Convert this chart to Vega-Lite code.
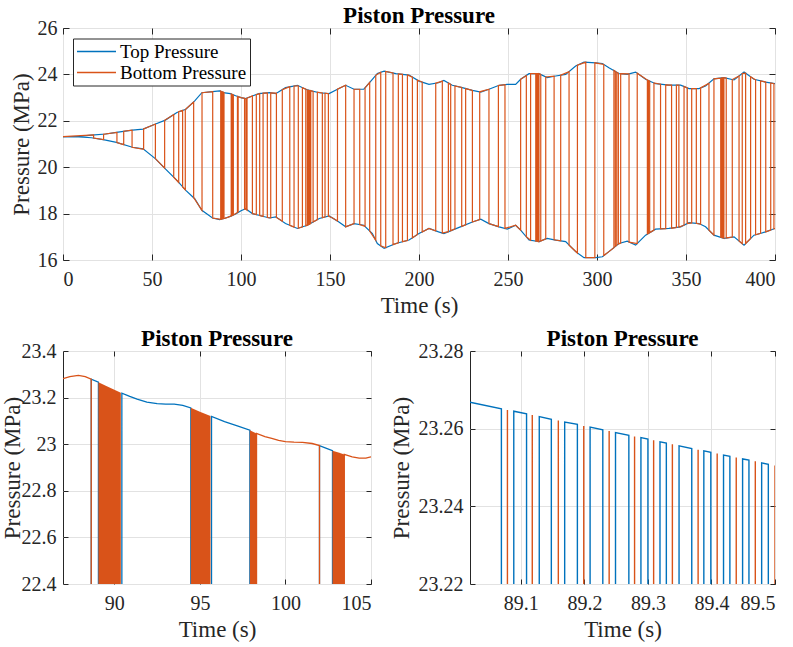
{
"$schema": "https://vega.github.io/schema/vega-lite/v6.json",
"padding": {"left": 0, "top": 4, "right": 2, "bottom": 2},
"background": "white",
"config": {
  "font": "Liberation Serif",
  "style": {"guide-label": {"font": "Liberation Serif"}, "guide-title": {"font": "Liberation Serif"}},
  "view": {"stroke": "#262626", "strokeWidth": 1},
  "axis": {"labelFont": "Liberation Serif", "titleFont": "Liberation Serif", "labelFontSize": 20, "titleFontSize": 23, "labelColor": "#262626", "titleColor": "#262626", "titleFontWeight": "normal", "tickColor": "#262626", "tickWidth": 1, "domain": false, "gridColor": "#e2e2e2", "gridWidth": 1},
  "title": {"font": "Liberation Serif", "fontSize": 23, "fontWeight": "bold", "color": "#000000", "offset": -10}
},
"datasets": {
"topBlue": [
{"e":"u","t":0,"p":21.32},{"e":"u","t":9,"p":21.33},{"e":"u","t":16,"p":21.38},{"e":"u","t":24,"p":21.43},{"e":"u","t":30,"p":21.5},{"e":"u","t":39,"p":21.6},{"e":"u","t":45,"p":21.64},{"e":"u","t":52,"p":21.86},{"e":"u","t":57.5,"p":22.03},{"e":"u","t":64,"p":22.36},{"e":"u","t":69,"p":22.5},{"e":"u","t":74,"p":22.86},{"e":"u","t":78,"p":23.21},{"e":"u","t":84,"p":23.26},{"e":"u","t":88,"p":23.29},{"e":"u","t":91,"p":23.2},{"e":"u","t":94,"p":23.17},{"e":"u","t":97,"p":23.08},{"e":"u","t":100,"p":23.0},{"e":"u","t":102.6,"p":22.96},{"e":"u","t":106.4,"p":23.07},{"e":"u","t":110,"p":23.17},{"e":"u","t":116,"p":23.21},{"e":"u","t":119.5,"p":23.17},{"e":"u","t":125,"p":23.43},{"e":"u","t":131.7,"p":23.53},{"e":"u","t":137.3,"p":23.33},{"e":"u","t":144,"p":23.21},{"e":"u","t":149.5,"p":23.17},{"e":"u","t":155,"p":23.39},{"e":"u","t":158.8,"p":23.53},{"e":"u","t":163.5,"p":23.36},{"e":"u","t":169,"p":23.36},{"e":"u","t":173.8,"p":23.79},{"e":"u","t":176.6,"p":24.04},{"e":"u","t":180.4,"p":24.14},{"e":"u","t":187,"p":24.03},{"e":"u","t":194.4,"p":23.97},{"e":"u","t":200,"p":23.71},{"e":"u","t":205.6,"p":23.57},{"e":"u","t":211,"p":23.64},{"e":"u","t":214,"p":23.74},{"e":"u","t":218.7,"p":23.53},{"e":"u","t":224.3,"p":23.43},{"e":"u","t":230,"p":23.31},{"e":"u","t":234.7,"p":23.24},{"e":"u","t":239.3,"p":23.36},{"e":"u","t":245,"p":23.53},{"e":"u","t":249.6,"p":23.57},{"e":"u","t":254.3,"p":23.57},{"e":"u","t":257.1,"p":23.79},{"e":"u","t":261.8,"p":24.03},{"e":"u","t":267.4,"p":24.03},{"e":"u","t":272,"p":23.86},{"e":"u","t":276.8,"p":23.93},{"e":"u","t":282.4,"p":24.0},{"e":"u","t":288,"p":24.36},{"e":"u","t":292.7,"p":24.53},{"e":"u","t":299.3,"p":24.5},{"e":"u","t":303,"p":24.47},{"e":"u","t":306.7,"p":24.29},{"e":"u","t":312.3,"p":24.04},{"e":"u","t":317,"p":24.0},{"e":"u","t":321.7,"p":24.1},{"e":"u","t":327.3,"p":23.79},{"e":"u","t":332.9,"p":23.6},{"e":"u","t":340.4,"p":23.54},{"e":"u","t":347,"p":23.54},{"e":"u","t":351.7,"p":23.39},{"e":"u","t":357.3,"p":23.39},{"e":"u","t":361,"p":23.5},{"e":"u","t":365.7,"p":23.81},{"e":"u","t":371.3,"p":23.86},{"e":"u","t":377,"p":23.76},{"e":"u","t":382.6,"p":24.1},{"e":"u","t":388.2,"p":23.79},{"e":"u","t":394.7,"p":23.67},{"e":"u","t":400,"p":23.6},
{"e":"l","t":0,"p":21.32},{"e":"l","t":9,"p":21.31},{"e":"l","t":16,"p":21.27},{"e":"l","t":24,"p":21.17},{"e":"l","t":30,"p":21.07},{"e":"l","t":39,"p":20.86},{"e":"l","t":45,"p":20.79},{"e":"l","t":52,"p":20.36},{"e":"l","t":57.5,"p":19.93},{"e":"l","t":64,"p":19.43},{"e":"l","t":69,"p":19.0},{"e":"l","t":74,"p":18.64},{"e":"l","t":78,"p":18.14},{"e":"l","t":84,"p":17.81},{"e":"l","t":88,"p":17.74},{"e":"l","t":91,"p":17.8},{"e":"l","t":94,"p":17.88},{"e":"l","t":97,"p":17.98},{"e":"l","t":100,"p":18.12},{"e":"l","t":102.6,"p":18.21},{"e":"l","t":106.4,"p":18.0},{"e":"l","t":110,"p":17.93},{"e":"l","t":116,"p":17.81},{"e":"l","t":119.5,"p":17.86},{"e":"l","t":125,"p":17.57},{"e":"l","t":131.7,"p":17.36},{"e":"l","t":137.3,"p":17.5},{"e":"l","t":144,"p":17.79},{"e":"l","t":149.5,"p":17.9},{"e":"l","t":155,"p":17.64},{"e":"l","t":158.8,"p":17.43},{"e":"l","t":163.5,"p":17.57},{"e":"l","t":169,"p":17.5},{"e":"l","t":173.8,"p":17.14},{"e":"l","t":176.6,"p":16.71},{"e":"l","t":180.4,"p":16.5},{"e":"l","t":187,"p":16.71},{"e":"l","t":194.4,"p":16.86},{"e":"l","t":200,"p":17.14},{"e":"l","t":205.6,"p":17.36},{"e":"l","t":211,"p":17.21},{"e":"l","t":214,"p":17.14},{"e":"l","t":218.7,"p":17.29},{"e":"l","t":224.3,"p":17.46},{"e":"l","t":230,"p":17.64},{"e":"l","t":234.7,"p":17.76},{"e":"l","t":239.3,"p":17.57},{"e":"l","t":245,"p":17.43},{"e":"l","t":249.6,"p":17.33},{"e":"l","t":254.3,"p":17.5},{"e":"l","t":257.1,"p":17.29},{"e":"l","t":261.8,"p":16.86},{"e":"l","t":267.4,"p":16.79},{"e":"l","t":272,"p":16.93},{"e":"l","t":276.8,"p":16.86},{"e":"l","t":282.4,"p":16.79},{"e":"l","t":288,"p":16.36},{"e":"l","t":292.7,"p":16.1},{"e":"l","t":299.3,"p":16.1},{"e":"l","t":303,"p":16.14},{"e":"l","t":306.7,"p":16.36},{"e":"l","t":312.3,"p":16.71},{"e":"l","t":317,"p":16.81},{"e":"l","t":321.7,"p":16.64},{"e":"l","t":327.3,"p":17.07},{"e":"l","t":332.9,"p":17.33},{"e":"l","t":340.4,"p":17.36},{"e":"l","t":347,"p":17.43},{"e":"l","t":351.7,"p":17.61},{"e":"l","t":357.3,"p":17.57},{"e":"l","t":361,"p":17.43},{"e":"l","t":365.7,"p":17.07},{"e":"l","t":371.3,"p":16.93},{"e":"l","t":377,"p":17.0},{"e":"l","t":382.6,"p":16.64},{"e":"l","t":388.2,"p":17.07},{"e":"l","t":394.7,"p":17.21},{"e":"l","t":400,"p":17.36}
],
"topOrange": [
{"t":0,"p":21.32},{"t":17.2,"p":21.39},{"t":17.2,"p":21.26},{"t":22.8,"p":21.19},{"t":22.8,"p":21.42},{"t":30.3,"p":21.5},{"t":30.3,"p":21.06},{"t":34.1,"p":20.97},{"t":34.1,"p":21.55},{"t":38.8,"p":21.6},{"t":38.8,"p":20.86},{"t":45.3,"p":20.77},{"t":45.3,"p":21.65},{"t":51.9,"p":21.86},{"t":51.9,"p":20.37},{"t":57.1,"p":19.96},{"t":57.1,"p":22.02},{"t":62.2,"p":22.27},{"t":62.2,"p":19.57},{"t":65,"p":19.34},{"t":65,"p":22.39},{"t":67.2,"p":22.45},{"t":67.2,"p":19.15},{"t":68.7,"p":19.03},{"t":68.7,"p":22.49},{"t":73.4,"p":22.81},{"t":73.4,"p":18.69},{"t":78.1,"p":18.13},{"t":78.1,"p":23.21},{"t":84.1,"p":23.26},{"t":84.1,"p":17.81},{"t":88.6,"p":17.75},{"t":88.6,"p":23.28},{"t":89,"p":23.26},{"t":89,"p":17.76},{"t":89.4,"p":17.77},{"t":89.4,"p":23.25},{"t":89.8,"p":23.24},{"t":89.8,"p":17.78},{"t":90.2,"p":17.79},{"t":90.2,"p":23.23},{"t":90.45,"p":23.22},{"t":90.45,"p":17.79},{"t":92.5,"p":17.84},{"t":94.5,"p":17.9},{"t":94.5,"p":23.16},{"t":94.9,"p":23.14},{"t":94.9,"p":17.91},{"t":95.3,"p":17.93},{"t":95.3,"p":23.12},{"t":95.7,"p":23.11},{"t":95.7,"p":17.94},{"t":98,"p":18.05},{"t":98,"p":23.05},{"t":98.2,"p":23.05},{"t":98.2,"p":18.06},{"t":98.4,"p":18.07},{"t":98.4,"p":23.04},{"t":100,"p":23.0},{"t":102,"p":22.97},{"t":102,"p":18.19},{"t":102.8,"p":18.2},{"t":102.8,"p":22.96},{"t":103.1,"p":22.97},{"t":103.1,"p":18.17},{"t":103.4,"p":18.15},{"t":103.4,"p":22.98},{"t":106.4,"p":23.07},{"t":106.4,"p":18.0},{"t":108.6,"p":17.96},{"t":108.6,"p":23.13},{"t":110.5,"p":23.17},{"t":110.5,"p":17.92},{"t":112.4,"p":17.88},{"t":112.4,"p":23.19},{"t":114.8,"p":23.2},{"t":114.8,"p":17.83},{"t":116.7,"p":17.82},{"t":116.7,"p":23.2},{"t":119.9,"p":23.19},{"t":119.9,"p":17.83},{"t":123.2,"p":17.67},{"t":123.2,"p":23.34},{"t":127.4,"p":23.47},{"t":127.4,"p":17.49},{"t":129.8,"p":17.42},{"t":129.8,"p":23.5},{"t":132.2,"p":23.51},{"t":132.2,"p":17.37},{"t":134.5,"p":17.43},{"t":134.5,"p":23.43},{"t":136.4,"p":23.36},{"t":136.4,"p":17.48},{"t":137.3,"p":17.5},{"t":137.3,"p":23.33},{"t":137.8,"p":23.32},{"t":137.8,"p":17.52},{"t":138.3,"p":17.54},{"t":138.3,"p":23.31},{"t":138.8,"p":23.3},{"t":138.8,"p":17.56},{"t":139.2,"p":17.58},{"t":139.2,"p":23.3},{"t":140.5,"p":23.27},{"t":140.5,"p":17.64},{"t":142.9,"p":17.74},{"t":142.9,"p":23.23},{"t":145.7,"p":23.2},{"t":145.7,"p":17.82},{"t":147.2,"p":17.86},{"t":147.2,"p":23.19},{"t":149.1,"p":23.17},{"t":149.1,"p":17.89},{"t":151.5,"p":17.81},{"t":154.2,"p":17.68},{"t":154.2,"p":23.36},{"t":158.8,"p":23.53},{"t":158.8,"p":17.43},{"t":163.5,"p":17.57},{"t":163.5,"p":23.36},{"t":166.7,"p":23.36},{"t":166.7,"p":17.53},{"t":169.7,"p":17.45},{"t":169.7,"p":23.42},{"t":172.3,"p":23.66},{"t":172.3,"p":17.25},{"t":175.7,"p":16.85},{"t":175.7,"p":23.96},{"t":178.5,"p":24.09},{"t":178.5,"p":16.61},{"t":181.3,"p":16.53},{"t":181.3,"p":24.13},{"t":185.4,"p":24.06},{"t":185.4,"p":16.66},{"t":188.4,"p":16.74},{"t":188.4,"p":24.02},{"t":190.7,"p":24.0},{"t":190.7,"p":16.79},{"t":193.5,"p":16.84},{"t":193.5,"p":23.98},{"t":196.3,"p":23.88},{"t":196.3,"p":16.95},{"t":199.1,"p":17.1},{"t":199.1,"p":23.75},{"t":201.8,"p":23.67},{"t":201.8,"p":17.21},{"t":205.6,"p":17.36},{"t":209.4,"p":17.25},{"t":209.4,"p":23.62},{"t":213.1,"p":23.71},{"t":213.1,"p":17.16},{"t":216.5,"p":17.22},{"t":216.5,"p":23.63},{"t":217.8,"p":23.57},{"t":217.8,"p":17.26},{"t":220.2,"p":17.34},{"t":220.2,"p":23.5},{"t":224,"p":23.44},{"t":224,"p":17.45},{"t":226.2,"p":17.52},{"t":226.2,"p":23.39},{"t":230,"p":23.31},{"t":230,"p":17.64},{"t":234.1,"p":17.74},{"t":234.1,"p":23.25},{"t":239.3,"p":23.36},{"t":239.3,"p":17.57},{"t":244.6,"p":17.44},{"t":244.6,"p":23.52},{"t":248.3,"p":23.56},{"t":248.3,"p":17.36},{"t":254.3,"p":17.5},{"t":257.1,"p":17.29},{"t":257.1,"p":23.79},{"t":260.3,"p":23.95},{"t":260.3,"p":17.0},{"t":262.7,"p":16.85},{"t":262.7,"p":24.03},{"t":265.6,"p":24.03},{"t":265.6,"p":16.81},{"t":266.2,"p":16.81},{"t":266.2,"p":24.03},{"t":266.8,"p":24.03},{"t":266.8,"p":16.8},{"t":267.4,"p":16.79},{"t":267.4,"p":24.03},{"t":268.4,"p":24.0},{"t":268.4,"p":16.82},{"t":271.2,"p":16.91},{"t":271.2,"p":23.89},{"t":275.9,"p":23.92},{"t":275.9,"p":16.87},{"t":279.6,"p":16.83},{"t":279.6,"p":23.97},{"t":284.3,"p":24.12},{"t":284.3,"p":16.64},{"t":289,"p":16.3},{"t":289,"p":24.4},{"t":293.7,"p":24.53},{"t":293.7,"p":16.1},{"t":298.8,"p":16.1},{"t":298.8,"p":24.5},{"t":303.8,"p":24.43},{"t":303.8,"p":16.19},{"t":306.7,"p":16.36},{"t":309.5,"p":16.53},{"t":309.5,"p":24.17},{"t":310.3,"p":24.13},{"t":310.3,"p":16.59},{"t":311.1,"p":16.64},{"t":311.1,"p":24.09},{"t":312,"p":24.05},{"t":312,"p":16.69},{"t":313.3,"p":16.73},{"t":313.3,"p":24.03},{"t":318,"p":24.02},{"t":318,"p":16.77},{"t":322.6,"p":16.71},{"t":322.6,"p":24.05},{"t":328.3,"p":23.76},{"t":328.3,"p":17.12},{"t":328.9,"p":17.15},{"t":328.9,"p":23.74},{"t":329.6,"p":23.71},{"t":329.6,"p":17.18},{"t":332,"p":17.29},{"t":332,"p":23.63},{"t":335.7,"p":23.58},{"t":335.7,"p":17.34},{"t":338.6,"p":17.35},{"t":338.6,"p":23.55},{"t":341.9,"p":23.54},{"t":341.9,"p":17.37},{"t":344.6,"p":17.4},{"t":344.6,"p":23.54},{"t":346,"p":23.54},{"t":346,"p":17.42},{"t":348.9,"p":17.5},{"t":348.9,"p":23.48},{"t":350.7,"p":23.42},{"t":350.7,"p":17.57},{"t":353.2,"p":17.6},{"t":353.2,"p":23.39},{"t":355.8,"p":23.39},{"t":355.8,"p":17.58},{"t":358.2,"p":17.54},{"t":358.2,"p":23.42},{"t":362.9,"p":23.62},{"t":362.9,"p":17.28},{"t":365.7,"p":17.07},{"t":365.7,"p":23.81},{"t":369.5,"p":23.84},{"t":369.5,"p":16.98},{"t":370.1,"p":16.97},{"t":370.1,"p":23.85},{"t":370.7,"p":23.85},{"t":370.7,"p":16.95},{"t":371.3,"p":16.93},{"t":371.3,"p":23.86},{"t":372.6,"p":23.84},{"t":372.6,"p":16.95},{"t":376,"p":16.99},{"t":376,"p":23.78},{"t":379.8,"p":23.93},{"t":379.8,"p":16.82},{"t":381.6,"p":16.7},{"t":381.6,"p":24.04},{"t":383.5,"p":24.05},{"t":383.5,"p":16.71},{"t":386.3,"p":16.93},{"t":386.3,"p":23.9},{"t":389.1,"p":23.77},{"t":389.1,"p":17.09},{"t":391.9,"p":17.15},{"t":391.9,"p":23.72},{"t":394.8,"p":23.67},{"t":394.8,"p":17.21},{"t":397.6,"p":17.29},{"t":397.6,"p":23.63},{"t":399.4,"p":23.6},{"t":399.4,"p":17.34},{"t":400,"p":17.36}
],
"blBlue": [
{"t":87,"p":17.8},{"t":88.65,"p":17.8},{"t":88.65,"p":23.279},{"t":89.07,"p":23.266},{"t":89.07,"p":17.8},{"t":90.44,"p":17.8},{"t":90.44,"p":23.219},{"t":90.9,"p":23.205},{"t":91.33,"p":23.193},{"t":91.9,"p":23.181},{"t":92.5,"p":23.174},{"t":93,"p":23.172},{"t":93.5,"p":23.172},{"t":94,"p":23.167},{"t":94.47,"p":23.156},{"t":94.47,"p":17.8},{"t":95.68,"p":17.8},{"t":95.68,"p":23.119},{"t":96.44,"p":23.097},{"t":97.23,"p":23.078},{"t":97.92,"p":23.06},{"t":97.92,"p":17.8},{"t":101.99,"p":17.8},{"t":101.99,"p":22.994},{"t":102.4,"p":22.982},{"t":102.75,"p":22.972},{"t":102.75,"p":17.8},{"t":105,"p":17.8}
],
"blOrange": [
{"t":87,"p":23.281},{"t":87.4,"p":23.29},{"t":87.9,"p":23.295},{"t":88.3,"p":23.29},{"t":88.65,"p":23.279},{"t":88.65,"p":17.8},{"t":98.31,"p":17.8},{"t":98.31,"p":23.046},{"t":98.8,"p":23.033},{"t":99.2,"p":23.025},{"t":99.6,"p":23.016},{"t":100,"p":23.011},{"t":100.5,"p":23.009},{"t":101,"p":23.008},{"t":101.56,"p":23.003},{"t":101.99,"p":22.994},{"t":101.99,"p":17.8},{"t":103.44,"p":17.8},{"t":103.44,"p":22.956},{"t":103.9,"p":22.946},{"t":104.31,"p":22.94},{"t":104.7,"p":22.94},{"t":105,"p":22.946}
],
"blBand": [
{"b":1,"t":89.07,"p":23.266},{"b":1,"t":89.5,"p":23.251},{"b":1,"t":90,"p":23.234},{"b":1,"t":90.38,"p":23.221},
{"b":2,"t":94.47,"p":23.156},{"b":2,"t":95,"p":23.139},{"b":2,"t":95.62,"p":23.121},
{"b":3,"t":97.92,"p":23.06},{"b":3,"t":98.31,"p":23.046},
{"b":4,"t":102.75,"p":22.972},{"b":4,"t":103.1,"p":22.964},{"b":4,"t":103.44,"p":22.956}
],
"brBlue": [
{"t":89.02,"p":23.2668},{"t":89.0694,"p":23.2651},{"t":89.0694,"p":17.8},{"t":89.0889,"p":17.8},{"t":89.0889,"p":23.2645},{"t":89.109,"p":23.2638},{"t":89.109,"p":17.8},{"t":89.129,"p":17.8},{"t":89.129,"p":23.2631},{"t":89.148,"p":23.2624},{"t":89.148,"p":17.8},{"t":89.169,"p":17.8},{"t":89.169,"p":23.2617},{"t":89.189,"p":23.2611},{"t":89.189,"p":17.8},{"t":89.209,"p":17.8},{"t":89.209,"p":23.2604},{"t":89.229,"p":23.2597},{"t":89.229,"p":17.8},{"t":89.249,"p":17.8},{"t":89.249,"p":23.259},{"t":89.27,"p":23.2583},{"t":89.27,"p":17.8},{"t":89.289,"p":17.8},{"t":89.289,"p":23.2577},{"t":89.3,"p":23.2573},{"t":89.3,"p":17.8},{"t":89.319,"p":17.8},{"t":89.319,"p":23.2566},{"t":89.329,"p":23.2563},{"t":89.329,"p":17.8},{"t":89.349,"p":17.8},{"t":89.349,"p":23.2556},{"t":89.369,"p":23.2549},{"t":89.369,"p":17.8},{"t":89.388,"p":17.8},{"t":89.388,"p":23.2543},{"t":89.399,"p":23.2539},{"t":89.399,"p":17.8},{"t":89.419,"p":17.8},{"t":89.419,"p":23.2532},{"t":89.429,"p":23.2529},{"t":89.429,"p":17.8},{"t":89.449,"p":17.8},{"t":89.449,"p":23.2522},{"t":89.459,"p":23.2519},{"t":89.459,"p":17.8},{"t":89.479,"p":17.8},{"t":89.479,"p":23.2512},{"t":89.4895,"p":23.2508},{"t":89.4895,"p":17.8},{"t":89.5,"p":17.8}
],
"brOrange": [
{"t":89.02,"p":17.8},{"t":89.0789,"p":17.8},{"t":89.0789,"p":23.2648},{"t":89.0789,"p":17.8},{"t":89.118,"p":17.8},{"t":89.118,"p":23.2635},{"t":89.118,"p":17.8},{"t":89.159,"p":17.8},{"t":89.159,"p":23.2621},{"t":89.159,"p":17.8},{"t":89.199,"p":17.8},{"t":89.199,"p":23.2607},{"t":89.199,"p":17.8},{"t":89.239,"p":17.8},{"t":89.239,"p":23.2594},{"t":89.239,"p":17.8},{"t":89.279,"p":17.8},{"t":89.279,"p":23.258},{"t":89.279,"p":17.8},{"t":89.309,"p":17.8},{"t":89.309,"p":23.257},{"t":89.309,"p":17.8},{"t":89.3385,"p":17.8},{"t":89.3385,"p":23.256},{"t":89.3385,"p":17.8},{"t":89.379,"p":17.8},{"t":89.379,"p":23.2546},{"t":89.379,"p":17.8},{"t":89.409,"p":17.8},{"t":89.409,"p":23.2536},{"t":89.409,"p":17.8},{"t":89.439,"p":17.8},{"t":89.439,"p":23.2526},{"t":89.439,"p":17.8},{"t":89.469,"p":17.8},{"t":89.469,"p":23.2516},{"t":89.469,"p":17.8},{"t":89.5,"p":17.8},{"t":89.5,"p":23.2505}
]
},
"bounds": "flush",
"spacing": 91,
"vconcat": [
{
  "width": 712, "height": 232,
  "title": {"text": "Piston Pressure"},
  "layer": [
    {
      "data": {"name": "topBlue"},
      "mark": {"type": "line", "strokeWidth": 1.2, "clip": true},
      "encoding": {
        "x": {"field": "t", "type": "quantitative", "scale": {"domain": [0, 400], "nice": false, "zero": false},
              "axis": {"values": [0,50,100,150,200,250,300,350,400], "labelFont": "Liberation Serif", "title": "Time (s)", "grid": true, "tickSize": -6, "labelPadding": 15, "titlePadding": 5}},
        "y": {"field": "p", "type": "quantitative", "scale": {"domain": [16, 26], "nice": false, "zero": false},
              "axis": {"values": [16,18,20,22,24,26], "labelFont": "Liberation Serif", "title": "Pressure (MPa)", "grid": true, "tickSize": -6, "labelPadding": 12, "titleX": -35, "titleBaseline": "alphabetic"}},
        "detail": {"field": "e", "type": "nominal"},
        "color": {"datum": "Top Pressure", "type": "nominal",
                  "scale": {"domain": ["Top Pressure", "Bottom Pressure"], "range": ["#0072BD", "#D95319"]},
                  "legend": {"title": null, "orient": "none", "legendX": 10, "legendY": 10.5, "symbolType": "stroke", "symbolSize": 1521, "symbolStrokeWidth": 1.3, "labelFont": "Liberation Serif", "labelFontSize": 19, "labelColor": "#000000", "padding": 3, "clipHeight": 20, "rowPadding": 1, "labelOffset": 3, "symbolOffset": 0, "fillColor": "#ffffff", "strokeColor": "#262626", "labelLimit": 400}}
      }
    },
    {
      "data": {"name": "topOrange"},
      "mark": {"type": "line", "strokeWidth": 1.2, "clip": true},
      "encoding": {
        "x": {"field": "t", "type": "quantitative", "axis": {"orient": "top", "values": [0,50,100,150,200,250,300,350,400], "labels": false, "title": null, "grid": false, "tickSize": -6}},
        "y": {"field": "p", "type": "quantitative", "axis": {"orient": "right", "values": [16,18,20,22,24,26], "labels": false, "title": null, "grid": false, "tickSize": -6}},
        "color": {"datum": "Bottom Pressure", "type": "nominal"},
        "order": {"value": null}
      }
    }
  ],
  "resolve": {"axis": {"x": "independent", "y": "independent"}}
},
{
  "bounds": "flush",
  "spacing": 99,
  "hconcat": [
    {
      "width": 308, "height": 233,
      "title": {"text": "Piston Pressure"},
      "layer": [
        {
          "data": {"name": "blBlue"},
          "mark": {"type": "line", "strokeWidth": 1.3, "clip": true, "color": "#0072BD"},
          "encoding": {
            "x": {"field": "t", "type": "quantitative", "scale": {"domain": [87, 105], "nice": false, "zero": false},
                  "axis": {"values": [90,95,100,105], "labelFont": "Liberation Serif", "title": "Time (s)", "grid": true, "tickSize": -5, "labelPadding": 14, "titlePadding": 5}},
            "y": {"field": "p", "type": "quantitative", "scale": {"domain": [22.4, 23.4], "nice": false, "zero": false},
                  "axis": {"values": [22.4,22.6,22.8,23,23.2,23.4], "labelFont": "Liberation Serif", "format": "~g", "title": "Pressure (MPa)", "grid": true, "tickSize": -5, "labelPadding": 12, "titleX": -44, "titleBaseline": "alphabetic"}},
            "order": {"value": null}
          }
        },
        {
          "data": {"name": "blBand"},
          "mark": {"type": "area", "color": "#D95319", "clip": true, "opacity": 1},
          "encoding": {
            "x": {"field": "t", "type": "quantitative", "axis": null},
            "y": {"field": "p", "type": "quantitative", "axis": null},
            "y2": {"datum": 17.8},
            "detail": {"field": "b", "type": "nominal"}
          }
        },
        {
          "data": {"name": "blOrange"},
          "mark": {"type": "line", "strokeWidth": 1.3, "clip": true, "color": "#D95319"},
          "encoding": {
            "x": {"field": "t", "type": "quantitative", "axis": {"orient": "top", "values": [90,95,100,105], "labels": false, "title": null, "grid": false, "tickSize": -5}},
            "y": {"field": "p", "type": "quantitative", "axis": {"orient": "right", "values": [22.4,22.6,22.8,23,23.2,23.4], "labels": false, "title": null, "grid": false, "tickSize": -5}},
            "order": {"value": null}
          }
        }
      ],
      "resolve": {"axis": {"x": "independent", "y": "independent"}}
    },
    {
      "width": 305, "height": 233,
      "title": {"text": "Piston Pressure"},
      "layer": [
        {
          "data": {"name": "brBlue"},
          "mark": {"type": "line", "strokeWidth": 1.4, "clip": true, "color": "#0072BD"},
          "encoding": {
            "x": {"field": "t", "type": "quantitative", "scale": {"domain": [89.02, 89.5], "nice": false, "zero": false},
                  "axis": {"values": [89.1,89.2,89.3,89.4,89.5], "labelFont": "Liberation Serif", "format": "~g", "title": "Time (s)", "grid": true, "tickSize": -5, "labelPadding": 14, "titlePadding": 5}},
            "y": {"field": "p", "type": "quantitative", "scale": {"domain": [23.22, 23.28], "nice": false, "zero": false},
                  "axis": {"values": [23.22,23.24,23.26,23.28], "labelFont": "Liberation Serif", "format": "~g", "title": "Pressure (MPa)", "grid": true, "tickSize": -5, "labelPadding": 12, "titleX": -62, "titleBaseline": "alphabetic"}},
            "order": {"value": null}
          }
        },
        {
          "data": {"name": "brOrange"},
          "mark": {"type": "line", "strokeWidth": 1.4, "clip": true, "color": "#D95319"},
          "encoding": {
            "x": {"field": "t", "type": "quantitative", "axis": {"orient": "top", "values": [89.1,89.2,89.3,89.4,89.5], "labels": false, "title": null, "grid": false, "tickSize": -5}},
            "y": {"field": "p", "type": "quantitative", "axis": {"orient": "right", "values": [23.22,23.24,23.26,23.28], "labels": false, "title": null, "grid": false, "tickSize": -5}},
            "order": {"value": null}
          }
        }
      ],
      "resolve": {"axis": {"x": "independent", "y": "independent"}}
    }
  ]
}
]
}
